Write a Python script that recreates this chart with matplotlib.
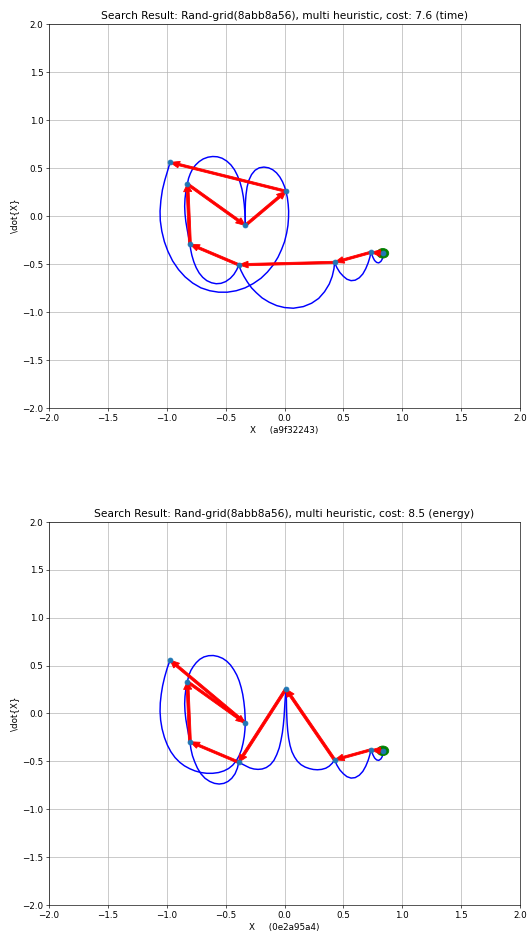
import matplotlib
matplotlib.use("Agg")
import matplotlib.pyplot as plt
from matplotlib.patches import Circle

plt.rcParams['font.size'] = 10.8

# start state (both searches start here)
start = (0.835, -0.39)

# --- top search (time) ---
top_title = "Search Result: Rand-grid(8abb8a56), multi heuristic, cost: 7.6 (time)"
top_xlabel = "X     (a9f32243)"
top_path_x = [0.835, 0.733, 0.425, -0.389, -0.803, -0.825, -0.333, 0.012, -0.972]
top_path_y = [-0.39, -0.38, -0.485, -0.51, -0.295, 0.332, -0.10, 0.256, 0.557]
top_curves = [
    # start -> 0.73
    ([0.835, 0.836, 0.83, 0.818, 0.8, 0.782, 0.765, 0.752, 0.742, 0.733],
     [-0.39, -0.42, -0.45, -0.475, -0.49, -0.485, -0.465, -0.435, -0.405, -0.38]),
    # 0.73 -> 0.42
    ([0.733, 0.725, 0.71, 0.69, 0.665, 0.635, 0.6, 0.565, 0.53, 0.5, 0.47, 0.445, 0.425],
     [-0.38, -0.43, -0.49, -0.55, -0.605, -0.645, -0.67, -0.675, -0.66, -0.63, -0.59, -0.54, -0.485]),
    # 0.42 -> -0.39
    ([0.425, 0.42, 0.405, 0.38, 0.34, 0.29, 0.23, 0.16, 0.075, 0.0, -0.066, -0.13, -0.19, -0.24,
      -0.28, -0.315, -0.345, -0.37, -0.389],
     [-0.485, -0.55, -0.63, -0.71, -0.79, -0.86, -0.91, -0.945, -0.962, -0.955, -0.935, -0.9,
      -0.855, -0.8, -0.75, -0.69, -0.63, -0.57, -0.51]),
    # -0.39 -> -0.80
    ([-0.389, -0.405, -0.43, -0.46, -0.5, -0.54, -0.58, -0.62, -0.66, -0.695, -0.725, -0.75,
      -0.77, -0.787, -0.797, -0.803],
     [-0.51, -0.56, -0.61, -0.65, -0.685, -0.703, -0.707, -0.697, -0.675, -0.64, -0.595, -0.54,
      -0.48, -0.41, -0.35, -0.295]),
    # -0.80 -> -0.83 (up)
    ([-0.803, -0.815, -0.827, -0.838, -0.845, -0.848, -0.845, -0.837, -0.825],
     [-0.295, -0.22, -0.14, -0.06, 0.02, 0.1, 0.18, 0.26, 0.332]),
    # -0.83 -> -0.33 (left lobe)
    ([-0.825, -0.815, -0.8, -0.78, -0.755, -0.725, -0.69, -0.65, -0.61, -0.57, -0.53, -0.49,
      -0.455, -0.425, -0.4, -0.378, -0.362, -0.35, -0.342, -0.337, -0.334, -0.333],
     [0.332, 0.39, 0.44, 0.49, 0.53, 0.565, 0.593, 0.611, 0.618, 0.615, 0.6, 0.57,
      0.53, 0.48, 0.42, 0.35, 0.28, 0.2, 0.12, 0.04, -0.03, -0.10]),
    # -0.33 -> 0.01 (right lobe)
    ([-0.333, -0.334, -0.334, -0.332, -0.327, -0.318, -0.303, -0.28, -0.25, -0.215, -0.175,
      -0.135, -0.1, -0.068, -0.04, -0.017, 0.0, 0.012],
     [-0.10, -0.02, 0.06, 0.14, 0.22, 0.3, 0.37, 0.43, 0.475, 0.5, 0.508,
      0.5, 0.48, 0.448, 0.405, 0.355, 0.305, 0.256]),
    # 0.01 -> -0.97 (big loop)
    ([0.012, 0.024, 0.031, 0.035, 0.034, 0.029, 0.018, 0.0, -0.025, -0.055, -0.095, -0.145,
      -0.2, -0.265, -0.335, -0.41, -0.485, -0.56, -0.635, -0.71, -0.78, -0.845, -0.9, -0.95,
      -0.99, -1.02, -1.042, -1.055, -1.057, -1.05, -1.037, -1.017, -0.995, -0.972],
     [0.256, 0.19, 0.12, 0.05, -0.02, -0.1, -0.18, -0.27, -0.35, -0.43, -0.51, -0.585,
      -0.65, -0.705, -0.75, -0.78, -0.795, -0.795, -0.78, -0.75, -0.70, -0.635, -0.56, -0.47,
      -0.37, -0.27, -0.16, -0.05, 0.05, 0.16, 0.27, 0.37, 0.46, 0.557]),
]

# --- bottom search (energy) ---
bot_title = "Search Result: Rand-grid(8abb8a56), multi heuristic, cost: 8.5 (energy)"
bot_xlabel = "X     (0e2a95a4)"
bot_path_x = [0.835, 0.733, 0.425, 0.012, -0.389, -0.803, -0.825, -0.333, -0.972]
bot_path_y = [-0.39, -0.38, -0.485, 0.256, -0.51, -0.295, 0.332, -0.10, 0.557]
bot_curves = [
    # start -> 0.73
    ([0.835, 0.836, 0.83, 0.818, 0.8, 0.782, 0.765, 0.752, 0.742, 0.733],
     [-0.39, -0.42, -0.45, -0.475, -0.49, -0.485, -0.465, -0.435, -0.405, -0.38]),
    # 0.73 -> 0.42
    ([0.733, 0.725, 0.71, 0.69, 0.665, 0.635, 0.6, 0.565, 0.53, 0.5, 0.47, 0.445, 0.425],
     [-0.38, -0.43, -0.49, -0.55, -0.605, -0.645, -0.67, -0.675, -0.66, -0.63, -0.59, -0.54, -0.485]),
    # 0.42 -> 0.01
    ([0.425, 0.405, 0.38, 0.35, 0.315, 0.28, 0.245, 0.21, 0.175, 0.14, 0.11, 0.085, 0.063,
      0.047, 0.035, 0.027, 0.022, 0.019, 0.017, 0.016, 0.014, 0.012],
     [-0.485, -0.52, -0.55, -0.572, -0.584, -0.588, -0.585, -0.575, -0.56, -0.535, -0.5, -0.455,
      -0.4, -0.335, -0.26, -0.18, -0.1, -0.02, 0.06, 0.14, 0.2, 0.256]),
    # 0.01 -> -0.39
    ([0.012, 0.008, 0.004, 0.0, -0.004, -0.01, -0.018, -0.03, -0.045, -0.066, -0.09, -0.12,
      -0.155, -0.19, -0.225, -0.26, -0.295, -0.325, -0.357, -0.389],
     [0.256, 0.19, 0.12, 0.04, -0.04, -0.12, -0.2, -0.28, -0.36, -0.43, -0.49, -0.535,
      -0.565, -0.58, -0.584, -0.58, -0.568, -0.55, -0.53, -0.51]),
    # -0.39 -> -0.80
    ([-0.389, -0.4, -0.42, -0.448, -0.48, -0.515, -0.555, -0.595, -0.635, -0.675, -0.71, -0.74,
      -0.763, -0.782, -0.795, -0.803],
     [-0.51, -0.57, -0.63, -0.677, -0.71, -0.73, -0.737, -0.73, -0.71, -0.677, -0.63, -0.57,
      -0.505, -0.44, -0.37, -0.295]),
    # -0.80 -> -0.83 (up)
    ([-0.803, -0.815, -0.827, -0.838, -0.845, -0.848, -0.845, -0.837, -0.825],
     [-0.295, -0.22, -0.14, -0.06, 0.02, 0.1, 0.18, 0.26, 0.332]),
    # -0.83 -> -0.33 (ellipse top)
    ([-0.825, -0.812, -0.795, -0.775, -0.75, -0.72, -0.685, -0.645, -0.605, -0.565, -0.525,
      -0.49, -0.458, -0.43, -0.405, -0.385, -0.368, -0.355, -0.345, -0.338, -0.335, -0.333],
     [0.332, 0.4, 0.45, 0.49, 0.53, 0.565, 0.59, 0.603, 0.605, 0.595, 0.575,
      0.545, 0.505, 0.455, 0.4, 0.34, 0.27, 0.2, 0.12, 0.04, -0.03, -0.10]),
    # -0.33 -> -0.97 (loop below)
    ([-0.333, -0.336, -0.342, -0.352, -0.366, -0.385, -0.41, -0.44, -0.475, -0.515, -0.56,
      -0.61, -0.66, -0.71, -0.76, -0.805, -0.85, -0.89, -0.93, -0.965, -0.995, -1.02, -1.04,
      -1.052, -1.057, -1.055, -1.047, -1.035, -1.018, -0.997, -0.972],
     [-0.10, -0.17, -0.24, -0.31, -0.38, -0.44, -0.495, -0.54, -0.575, -0.6, -0.617,
      -0.625, -0.625, -0.617, -0.6, -0.577, -0.547, -0.51, -0.46, -0.4, -0.33, -0.25, -0.16,
      -0.07, 0.02, 0.11, 0.2, 0.29, 0.38, 0.47, 0.557]),
]


def draw_search(ax, path_x, path_y, curves, title, xlabel):
    for cx, cy in curves:
        ax.plot(cx, cy, color='blue', linewidth=1.8, solid_joinstyle='round', zorder=2)

    ax.add_patch(Circle(start, 0.05, facecolor='green', edgecolor='green', zorder=3))

    for i in range(len(path_x) - 1):
        x0, y0 = path_x[i], path_y[i]
        dx, dy = path_x[i + 1] - x0, path_y[i + 1] - y0
        ax.arrow(x0, y0, dx, dy, color='red', width=0.024, head_width=0.07,
                 head_length=0.08, length_includes_head=True, zorder=4)

    ax.scatter(path_x, path_y, zorder=5)

    ax.set_xlim(-2, 2)
    ax.set_ylim(-2, 2)
    ax.set_title(title, fontsize=13)
    ax.set_xlabel(xlabel)
    ax.set_ylabel("\\dot{X}")
    ax.grid(True)


fig = plt.figure(figsize=(9.0, 15.97), dpi=58.56)
ax1 = fig.add_axes([49 / 527, 527 / 935, 471 / 527, 384 / 935])
ax2 = fig.add_axes([49 / 527, 30 / 935, 471 / 527, 383 / 935])

draw_search(ax1, top_path_x, top_path_y, top_curves, top_title, top_xlabel)
draw_search(ax2, bot_path_x, bot_path_y, bot_curves, bot_title, bot_xlabel)

fig.savefig("out.png", dpi=58.56)
